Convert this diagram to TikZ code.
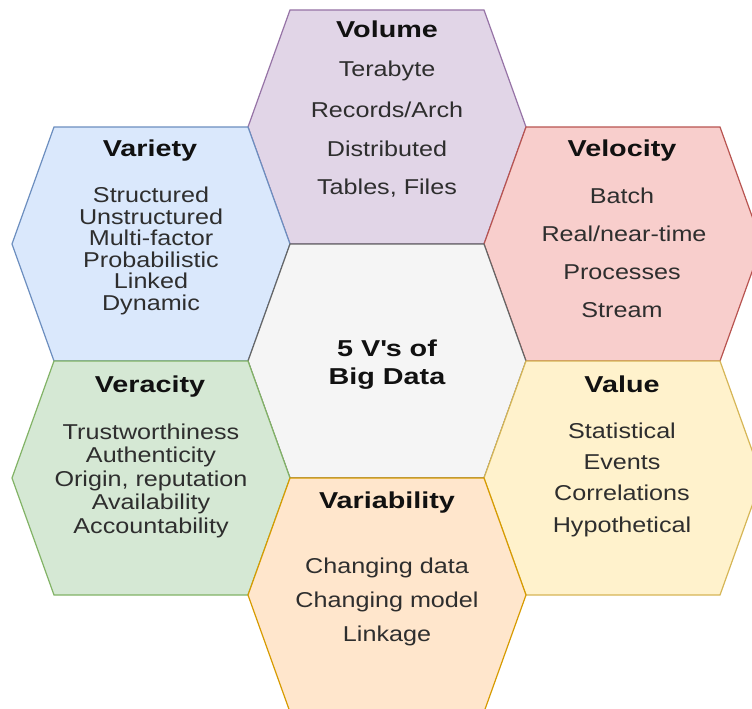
\documentclass[tikz,border=0pt]{standalone}
\usepackage{fontspec}
\newfontfamily\bodyfont[FakeStretch=1.17]{Liberation Sans}
\newfontfamily\titlefont[FakeStretch=1.25]{Liberation Sans Bold}
\definecolor{volF}{HTML}{E1D5E7}\definecolor{volD}{HTML}{9673A6}
\definecolor{varF}{HTML}{DAE8FC}\definecolor{varD}{HTML}{6C8EBF}
\definecolor{velF}{HTML}{F8CECC}\definecolor{velD}{HTML}{B85450}
\definecolor{cenF}{HTML}{F5F5F5}\definecolor{cenD}{HTML}{666666}
\definecolor{verF}{HTML}{D5E8D4}\definecolor{verD}{HTML}{82B366}
\definecolor{valF}{HTML}{FFF2CC}\definecolor{valD}{HTML}{D6B656}
\definecolor{vbyF}{HTML}{FFE6CC}\definecolor{vbyD}{HTML}{D79B00}
\definecolor{titlec}{HTML}{111111}
\definecolor{bodyc}{HTML}{2E2E2E}
\begin{document}
\begin{tikzpicture}[x=1pt,y=-1pt,
  hexcell/.style={line width=1.2pt, line join=miter},
  ttl/.style={anchor=base, inner sep=0pt, font=\titlefont\fontsize{23}{27}\selectfont, text=titlec},
  bod/.style={anchor=base, inner sep=0pt, font=\bodyfont\fontsize{21.5}{25}\selectfont, text=bodyc}]
\useasboundingbox (0,0) rectangle (752,709);
\clip (0,0) rectangle (752,709);
\fill[white] (0,0) rectangle (752,709);
% hexagons: centre x, centre y, fill, stroke
\foreach \cx/\cy/\f/\d in {387/127/volF/volD, 151/244/varF/varD, 623/244/velF/velD,
                           387/361/cenF/cenD, 151/478/verF/verD, 623/478/valF/valD,
                           387/595/vbyF/vbyD}{
  \filldraw[hexcell, fill=\f, draw=\d]
    (\cx-139,\cy) -- (\cx-97,\cy-117) -- (\cx+97,\cy-117) -- (\cx+139,\cy)
    -- (\cx+97,\cy+117) -- (\cx-97,\cy+117) -- cycle;
}
% Volume
\node[ttl] (volT) at (387,38) {Volume};
\node[bod] (vol1) at (387,77) {Terabyte};
\node[bod] (vol2) at (387,117) {Records/Arch};
\node[bod] (vol3) at (387,156) {Distributed};
\node[bod] (vol4) at (387,194) {Tables, Files};
% Variety
\node[ttl] (varT) at (150,156) {Variety};
\node[bod] (var1) at (151,202) {Structured};
\node[bod] (var2) at (151,224) {Unstructured};
\node[bod] (var3) at (151,245.5) {Multi-factor};
\node[bod] (var4) at (151,267) {Probabilistic};
\node[bod] (var5) at (151,288.5) {Linked};
\node[bod] (var6) at (151,310) {Dynamic};
% Velocity
\node[ttl] (velT) at (622,156) {Velocity};
\node[bod] (vel1) at (622,203) {Batch};
\node[bod] (vel2) at (624,241) {Real/near-time};
\node[bod] (vel3) at (622,279) {Processes};
\node[bod] (vel4) at (622,317) {Stream};
% Centre
\node[ttl] (cen1) at (387,356) {5 V\textquotesingle s of};
\node[ttl] (cen2) at (387,384) {Big Data};
% Veracity
\node[ttl] (verT) at (150,392) {Veracity};
\node[bod] (ver1) at (151,439) {Trustworthiness};
\node[bod] (ver2) at (151,462.5) {Authenticity};
\node[bod] (ver3) at (151,486) {Origin, reputation};
\node[bod] (ver4) at (151,509.5) {Availability};
\node[bod] (ver5) at (151,533) {Accountability};
% Value
\node[ttl] (valT) at (622,392) {Value};
\node[bod] (val1) at (622,438) {Statistical};
\node[bod] (val2) at (622,469) {Events};
\node[bod] (val3) at (622,500) {Correlations};
\node[bod] (val4) at (622,532) {Hypothetical};
% Variability
\node[ttl] (vbyT) at (387,508) {Variability};
\node[bod] (vby1) at (387,573) {Changing data};
\node[bod] (vby2) at (387,607) {Changing model};
\node[bod] (vby3) at (387,641) {Linkage};
\end{tikzpicture}
\end{document}
